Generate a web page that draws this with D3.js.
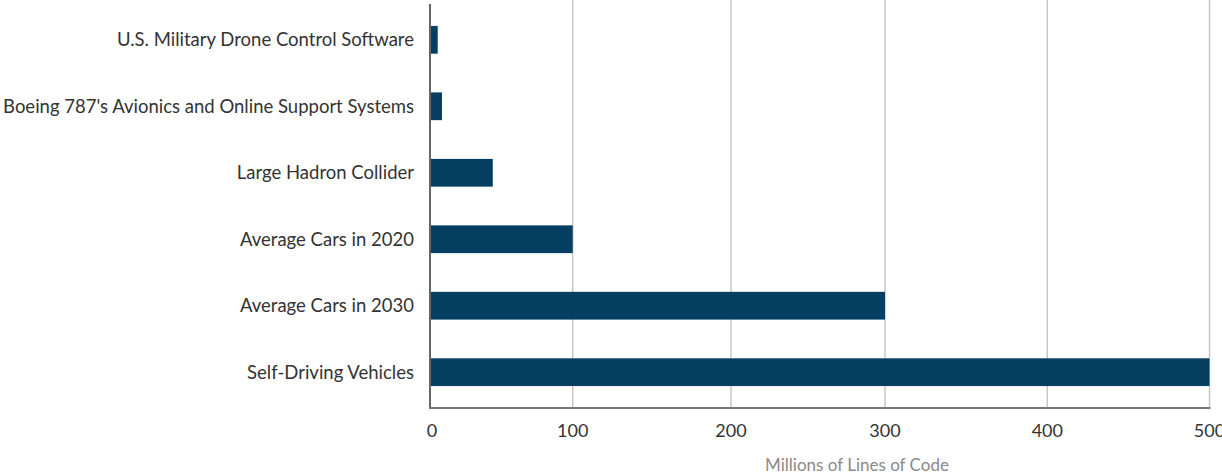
<!DOCTYPE html>
<html>
<head>
<meta charset="utf-8">
<script src="https://cdn.jsdelivr.net/npm/d3@7"></script>
<style>
  body { margin: 0; background: #fff; }
  svg { display: block; font-family: Lato, 'Noto Sans', sans-serif; }
</style>
</head>
<body>
<div id="chart"></div>
<script>
// Millions of lines of code per system
const categories = [
  'U.S. Military Drone Control Software',
  "Boeing 787's Avionics and Online Support Systems",
  'Large Hadron Collider',
  'Average Cars in 2020',
  'Average Cars in 2030',
  'Self-Driving Vehicles'
]
const values = [5.4, 8.4, 44, 100, 300, 500]
const ticks = [0, 100, 200, 300, 400, 500]
const axisTitle = 'Millions of Lines of Code'

const width = 1222
const height = 475
const COLOR_BAR = '#063f62'

const svg = d3.select('#chart').append('svg')
  .attr('width', width)
  .attr('height', height)

// the source chart spaces its gridlines slightly unevenly, so the scale is piecewise
const x = d3.scaleLinear()
  .domain(ticks)
  .range([430, 572.7, 731, 885, 1047.3, 1209.5])

const y = d3.scaleBand()
  .domain(categories)
  .range([4, 408])
  .paddingInner(0.5825)
  .paddingOuter(0.33)

// gridlines
svg.append('g')
  .selectAll('line')
  .data(ticks.slice(1))
  .enter().append('line')
  .attr('x1', d => x(d))
  .attr('x2', d => x(d))
  .attr('y1', 0)
  .attr('y2', 408)
  .style('stroke', '#c4c4c4')
  .style('stroke-width', 1.4)

// bars
svg.append('g')
  .selectAll('rect')
  .data(values)
  .enter().append('rect')
  .attr('x', x(0))
  .attr('y', (d, i) => y(categories[i]))
  .attr('width', d => x(d) - x(0))
  .attr('height', y.bandwidth())
  .style('fill', COLOR_BAR)

// axis lines
svg.append('line')
  .attr('x1', x(0)).attr('x2', x(0))
  .attr('y1', 4).attr('y2', 409)
  .style('stroke', '#666')
  .style('stroke-width', 2)

svg.append('line')
  .attr('x1', x(0) - 1).attr('x2', x(500) + 1)
  .attr('y1', 408).attr('y2', 408)
  .style('stroke', '#777')
  .style('stroke-width', 2)

// category labels
svg.append('g')
  .selectAll('text')
  .data(categories)
  .enter().append('text')
  .attr('x', 414)
  .attr('y', d => y(d) + y.bandwidth() / 2)
  .attr('dy', '0.35em')
  .style('text-anchor', 'end')
  .style('font-size', '18.5px')
  .style('fill', '#333')
  .text(d => d)

// tick labels
svg.append('g')
  .selectAll('text')
  .data(ticks)
  .enter().append('text')
  .attr('x', d => x(d) + (d === 0 ? 2 : 0))
  .attr('y', 431)
  .attr('dy', '0.35em')
  .style('text-anchor', 'middle')
  .style('font-size', '18px')
  .style('fill', '#333')
  .text(d => d)

svg.append('text')
  .attr('x', 857)
  .attr('y', 465)
  .attr('dy', '0.35em')
  .style('text-anchor', 'middle')
  .style('font-size', '17px')
  .style('fill', '#8a8a8a')
  .text(axisTitle)
</script>
</body>
</html>
